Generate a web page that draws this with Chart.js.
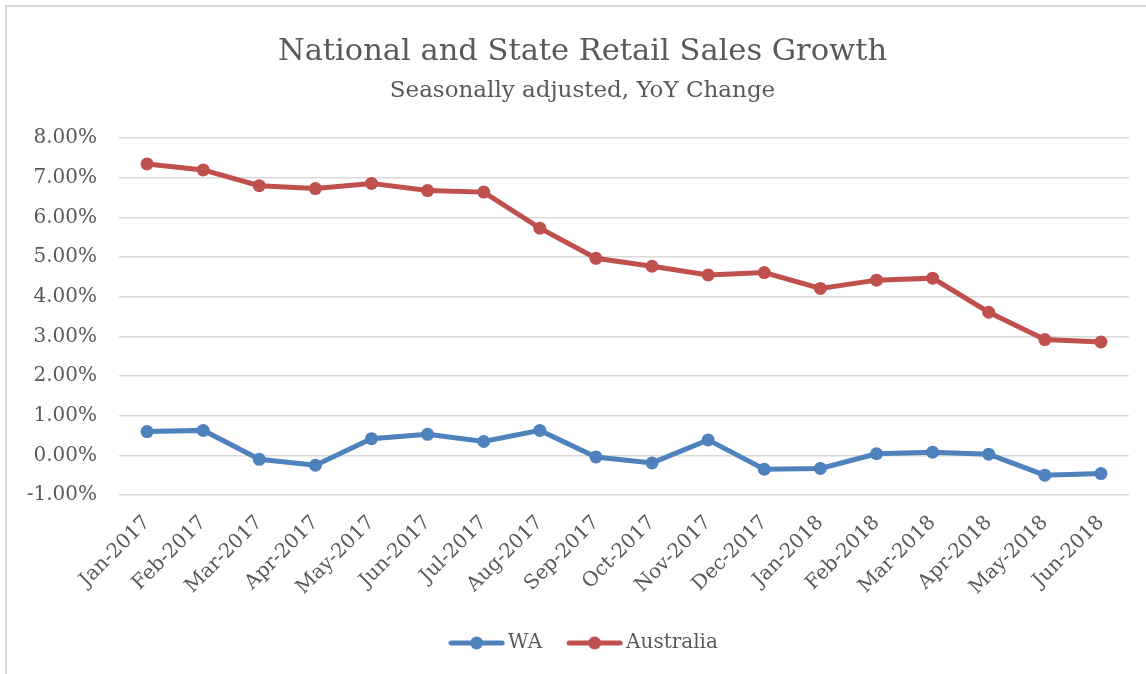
<!DOCTYPE html>
<html>
<head>
<meta charset="utf-8">
<script src="https://cdn.jsdelivr.net/npm/chart.js@4/dist/chart.umd.min.js"></script>
<style>
    html, body { margin: 0; padding: 0; background: #fff; overflow: hidden; }
    #wrap { position: relative; width: 1146px; height: 674px; }
    #frame { position: absolute; left: 5px; top: 5px; width: 1200px; height: 720px; border: 2px solid #d9d9d9; }
    #chart { position: absolute; left: 0; top: 0; }
</style>
</head>
<body>
<div id="wrap">
    <div id="frame"></div>
    <canvas id="chart" width="1146" height="674"></canvas>
</div>
<script>
// Data (YoY %)
const months = ['Jan-2017', 'Feb-2017', 'Mar-2017', 'Apr-2017', 'May-2017', 'Jun-2017',
    'Jul-2017', 'Aug-2017', 'Sep-2017', 'Oct-2017', 'Nov-2017', 'Dec-2017',
    'Jan-2018', 'Feb-2018', 'Mar-2018', 'Apr-2018', 'May-2018', 'Jun-2018'];
const waValues = [0.60, 0.63, -0.10, -0.25, 0.42, 0.53, 0.35, 0.63, -0.04, -0.19,
    0.39, -0.35, -0.33, 0.04, 0.08, 0.03, -0.50, -0.46];
const australiaValues = [7.35, 7.20, 6.80, 6.73, 6.86, 6.68, 6.64, 5.73, 4.97, 4.77,
    4.55, 4.61, 4.21, 4.42, 4.47, 3.61, 2.92, 2.86];
const yMin = -1;
const yMax = 8;
const yStep = 1;

const BLUE = '#4f81bd';
const RED = '#c0504d';
const TEXT = '#595959';
const FONT = '"DejaVu Serif", "Liberation Serif", serif';

// legend marker: line with a dot in the middle
function legendMarker(color) {
    const c = document.createElement('canvas');
    c.width = 57;
    c.height = 16;
    const g = c.getContext('2d');
    g.strokeStyle = color;
    g.lineWidth = 5;
    g.lineCap = 'round';
    g.beginPath();
    g.moveTo(3, 8);
    g.lineTo(54, 8);
    g.stroke();
    g.fillStyle = color;
    g.beginPath();
    g.arc(28.5, 8, 6.5, 0, Math.PI * 2);
    g.fill();
    return c;
}

// nudge titles and legend sideways a little (reference isn't exactly centred)
const boxShift = {
    id: 'boxShift',
    afterLayout(chart) {
        chart.boxes.forEach(b => {
            if (b.axis) return;
            const d = b.position === 'bottom' ? 12 : 8;
            b.left += d;
            b.right += d;
        });
    }
};

const ctx = document.getElementById('chart').getContext('2d');
new Chart(ctx, {
    type: 'line',
    data: {
        labels: months,
        datasets: [
            {
                label: 'WA',
                data: waValues,
                borderColor: BLUE,
                backgroundColor: BLUE,
                borderWidth: 5,
                pointRadius: 6.5,
                pointBorderWidth: 0,
                tension: 0
            },
            {
                label: 'Australia',
                data: australiaValues,
                borderColor: RED,
                backgroundColor: RED,
                borderWidth: 5,
                pointRadius: 6.5,
                pointBorderWidth: 0,
                tension: 0
            }
        ]
    },
    plugins: [boxShift],
    options: {
        responsive: false,
        animation: false,
        layout: { padding: { left: 20, right: 17, top: 0, bottom: 11 } },
        plugins: {
            title: {
                display: true,
                text: 'National and State Retail Sales Growth',
                color: TEXT,
                font: { family: FONT, size: 30.5, weight: 'normal' },
                padding: { top: 34, bottom: 4 }
            },
            subtitle: {
                display: true,
                text: 'Seasonally adjusted, YoY Change',
                color: TEXT,
                font: { family: FONT, size: 23, weight: 'normal' },
                padding: { top: 3, bottom: 33 }
            },
            legend: {
                position: 'bottom',
                labels: {
                    usePointStyle: true,
                    pointStyleWidth: 43,
                    padding: 31,
                    color: TEXT,
                    font: { family: FONT, size: 20 },
                    generateLabels: function (chart) {
                        return chart.data.datasets.map((ds, i) => ({
                            text: ds.label,
                            pointStyle: legendMarker(ds.borderColor),
                            fillStyle: ds.borderColor,
                            strokeStyle: ds.borderColor,
                            lineWidth: 0,
                            fontColor: TEXT,
                            datasetIndex: i
                        }));
                    }
                }
            },
            tooltip: { enabled: false }
        },
        scales: {
            x: {
                offset: true,
                grid: { display: false, drawTicks: false },
                border: { display: false },
                ticks: {
                    color: TEXT,
                    font: { family: FONT, size: 20 },
                    maxRotation: 45,
                    minRotation: 45,
                    autoSkip: false,
                    padding: 16
                },
                afterFit: function (scale) { scale.height = 107; }
            },
            y: {
                min: yMin,
                max: yMax,
                grid: { color: '#d9d9d9', lineWidth: 1.5, drawTicks: false },
                border: { display: false },
                ticks: {
                    stepSize: yStep,
                    color: TEXT,
                    font: { family: FONT, size: 20 },
                    padding: 22,
                    callback: function (v) { return v.toFixed(2) + '%'; }
                },
                afterFit: function (scale) { scale.width = 99; }
            }
        }
    }
});
</script>
</body>
</html>
